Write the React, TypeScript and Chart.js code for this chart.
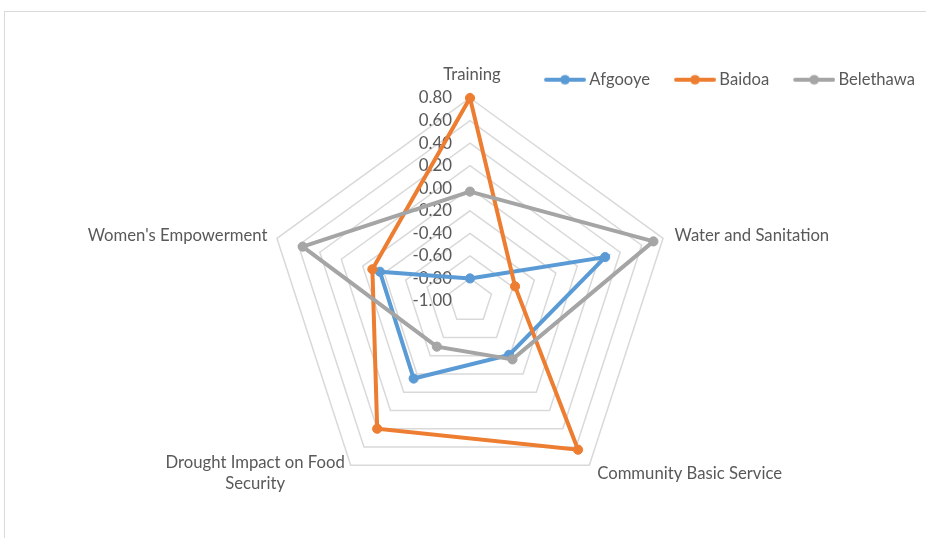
import { useEffect, useRef } from 'react';
import { Chart, registerables } from 'chart.js';

Chart.register(...registerables);

// ---- data ----
const categories: (string | string[])[] = [
  'Training',
  'Water and Sanitation',
  'Community Basic Service',
  ['Drought Impact on Food', 'Security'],
  "Women's Empowerment",
];
const seriesNames = ['Afgooye', 'Baidoa', 'Belethawa'];
const afgooye = [-0.8, 0.26, -0.41, -0.15, -0.16];
const baidoa = [0.8, -0.58, 0.63, 0.4, -0.09];
const belethawa = [-0.03, 0.71, -0.36, -0.5, 0.56];
const axisMin = -1.0;
const axisMax = 0.8;
const axisStep = 0.2;

// ---- styles ----
const seriesColors = ['#5B9BD5', '#ED7D31', '#A5A5A5'];
const TEXT = '#595959';
const FONT = 'Lato';
const TICK_SIZE = 16.8;
const LABEL_SIZE = 16.7;
const LEGEND_SIZE = 16.6;

function legendSwatch(color: string) {
  const c = document.createElement('canvas');
  c.width = 61;
  c.height = 12;
  const g = c.getContext('2d')!;
  g.strokeStyle = color;
  g.lineWidth = 4;
  g.lineCap = 'round';
  g.beginPath();
  g.moveTo(21, 6);
  g.lineTo(59, 6);
  g.stroke();
  g.fillStyle = color;
  g.beginPath();
  g.arc(40, 6, 4.8, 0, Math.PI * 2);
  g.fill();
  return c;
}

const labelPlugin = {
  id: 'excelLabels',
  beforeDatasetsDraw(chart: any) {
    const scale = chart.scales.r;
    const ctx = chart.ctx as CanvasRenderingContext2D;
    ctx.save();
    ctx.fillStyle = TEXT;
    // tick labels, right aligned left of the vertical axis
    ctx.font = `${TICK_SIZE}px ${FONT}`;
    ctx.textAlign = 'right';
    ctx.textBaseline = 'middle';
    scale.ticks.forEach((t: any) => {
      const y = scale.yCenter - scale.getDistanceFromCenterForValue(t.value);
      ctx.fillText(Number(t.value).toFixed(2), scale.xCenter - 18, y);
    });
    // category labels
    ctx.font = `${LABEL_SIZE}px ${FONT}`;
    ctx.textAlign = 'center';
    const labels = chart.data.labels as (string | string[])[];
    const lh = 21;
    labels.forEach((label, i) => {
      const pos = scale.getPointPosition(i, scale.drawingArea + 10);
      const a = scale.getIndexAngle(i);
      const s = Math.sin(a);
      const c = Math.cos(a);
      const lines = Array.isArray(label) ? label : [label];
      const blockH = lines.length * lh;
      const bw = Math.max(...lines.map((l) => ctx.measureText(l).width));
      const cx = s > 0.1 ? pos.x + 2 + bw / 2 : s < -0.1 ? pos.x - bw / 2 : pos.x + 2;
      const cy = c > 0.9 ? pos.y - blockH / 2 - 3 : pos.y;
      lines.forEach((l, k) => {
        ctx.fillText(l, cx, cy - blockH / 2 + lh / 2 + k * lh);
      });
    });
    ctx.restore();
  },
};

export default function App() {
  const ref = useRef<HTMLCanvasElement>(null);
  useEffect(() => {
    const seriesData = [afgooye, baidoa, belethawa];
    const swatches = seriesColors.map(legendSwatch);
    const chart = new Chart(ref.current!, {
      type: 'radar',
      data: {
        labels: categories as any,
        datasets: seriesNames.map((name, k) => ({
          label: name,
          data: seriesData[k],
          borderColor: seriesColors[k],
          backgroundColor: seriesColors[k],
          pointBackgroundColor: seriesColors[k],
          pointBorderColor: seriesColors[k],
          borderWidth: 4,
          pointRadius: 4.6,
          pointBorderWidth: 1,
          fill: false,
          order: seriesNames.length - k,
        })),
      },
      options: {
        responsive: false,
        animation: false,
        layout: { padding: { top: 61.4, left: 15, right: 1, bottom: 34 } },
        plugins: {
          tooltip: { enabled: false },
          legend: {
            position: 'top',
            align: 'end',
            labels: {
              usePointStyle: true,
              pointStyleWidth: 51,
              padding: 10,
              color: TEXT,
              font: { size: LEGEND_SIZE, family: FONT },
              sort: (a: any, b: any) => a.datasetIndex - b.datasetIndex,
              generateLabels: (ch: any) => {
                const items = (Chart.defaults.plugins.legend.labels as any).generateLabels(ch);
                items.forEach((it: any) => {
                  it.pointStyle = swatches[it.datasetIndex];
                });
                return items;
              },
            },
          },
        },
        scales: {
          r: {
            min: axisMin,
            max: axisMax,
            beginAtZero: false,
            ticks: { display: false, stepSize: axisStep },
            grid: { color: '#d9d9d9', lineWidth: 1.5, circular: false },
            angleLines: { display: false },
            pointLabels: { display: false },
          },
        },
      } as any,
      plugins: [labelPlugin],
    });
    return () => chart.destroy();
  }, []);
  return (
    <div
      style={{
        position: 'absolute',
        left: 0,
        top: 0,
        width: 926,
        height: 538,
        overflow: 'hidden',
        background: '#fff',
      }}
    >
      <div
        style={{
          position: 'absolute',
          left: 4,
          top: 11,
          width: 1000,
          height: 1000,
          borderTop: '1px solid #d9d9d9',
          borderLeft: '1px solid #d9d9d9',
        }}
      />
      <canvas ref={ref} width={926} height={538} style={{ position: 'absolute', left: 0, top: 0 }} />
    </div>
  );
}
